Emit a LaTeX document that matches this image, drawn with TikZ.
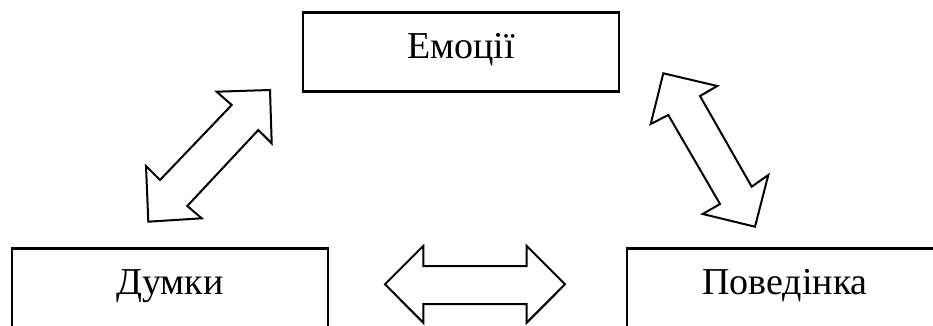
\documentclass[tikz,border=0pt]{standalone}
\usepackage{fontspec}
\setmainfont{Liberation Serif}
\begin{document}
\begin{tikzpicture}[x=1pt,y=-1pt,
  box/.style={draw=black,line width=2.6pt,inner sep=0pt,minimum width=316pt,text width=316pt,align=center,font=\fontsize{38}{40}\selectfont},
  topbox/.style={box,text height=46pt,text depth=33pt},
  lowbox/.style={box,text height=46pt,text depth=70pt},
  blockarrow/.style={draw=black,fill=white,line width=2pt,line join=miter}]
\useasboundingbox (0,0) rectangle (933,326);
\clip (0,0) rectangle (933,326);
\node[topbox,anchor=north] (emo) at (461,11) {Емоції};
\node[lowbox,anchor=north] (dum) at (170,247) {Думки};
\node[lowbox,anchor=north] (pov) at (785,247) {Поведінка};
% left diagonal arrow
\draw[blockarrow] (270,90) -- (216.7,91.7) -- (231.7,105) -- (160,180) -- (146,166)
  -- (148.3,221.7) -- (201.7,218.3) -- (187.3,206) -- (258.3,130) -- (271.7,143.3) -- cycle;
% right diagonal arrow
\draw[blockarrow] (663.3,73.3) -- (717.3,86) -- (700,96) -- (751.7,186.7) -- (768.3,175)
  -- (755,226.7) -- (702.7,214) -- (720,204) -- (668.3,115) -- (650.7,124) -- cycle;
% horizontal arrow
\draw[blockarrow] (385,284.3) -- (423.3,246) -- (423.3,266) -- (526.7,266) -- (526.7,246)
  -- (565,284.3) -- (526.7,322.7) -- (526.7,304) -- (423.3,304) -- (423.3,322.7) -- cycle;
\end{tikzpicture}
\end{document}
